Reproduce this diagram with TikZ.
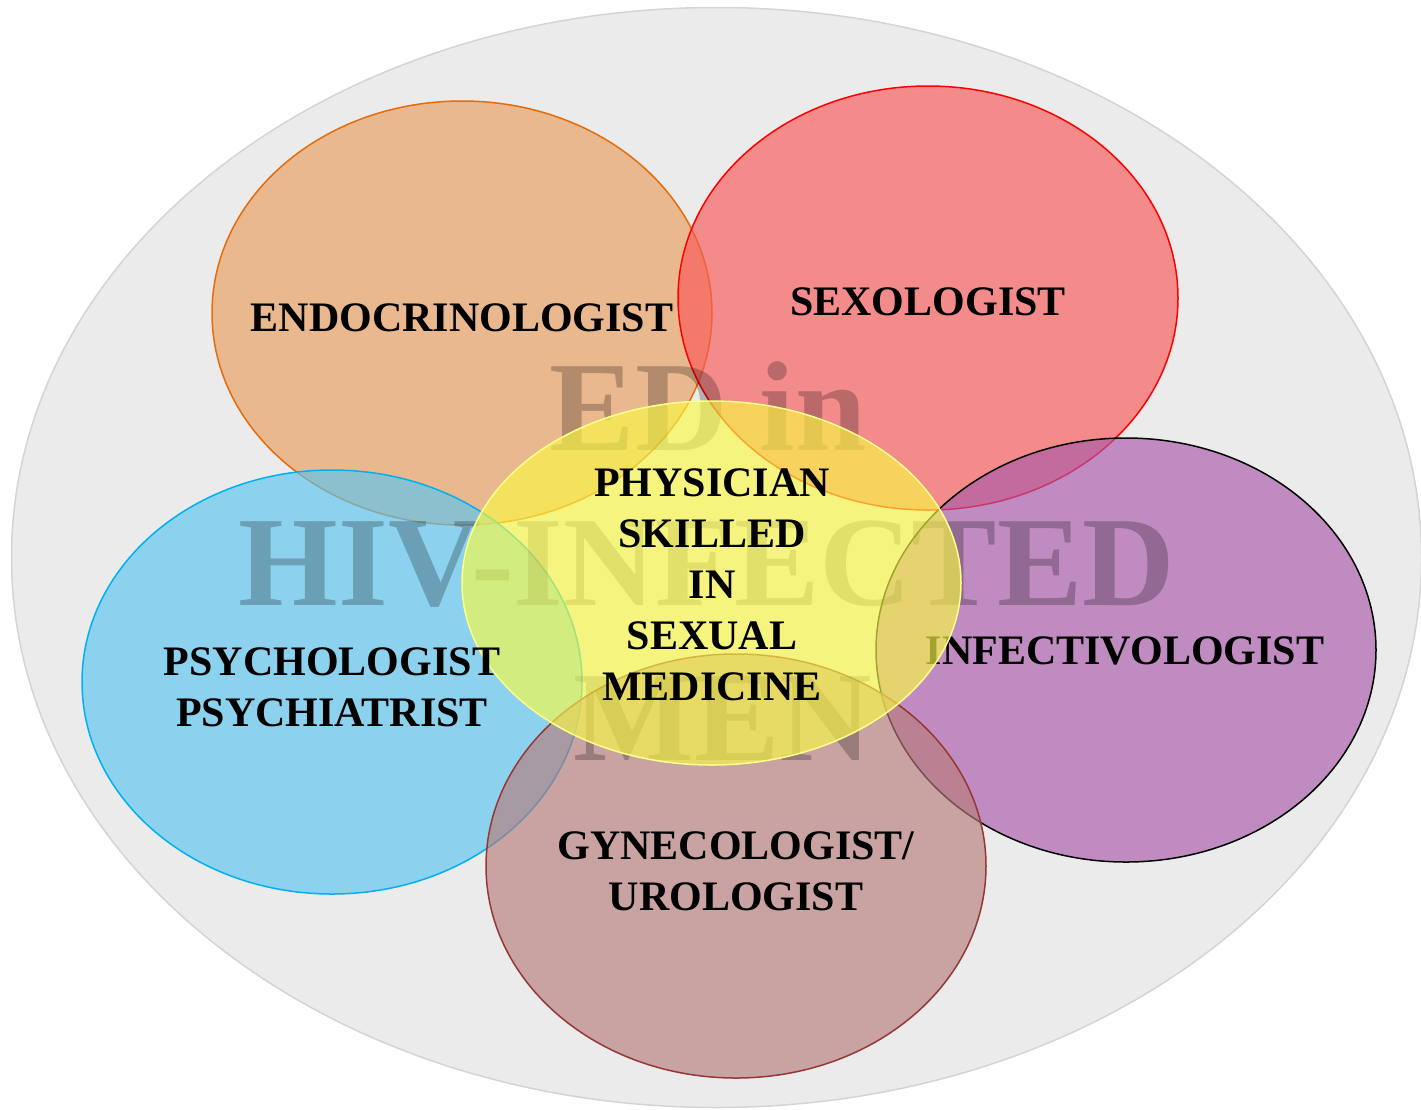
\documentclass[tikz,border=0pt]{standalone}
\usepackage{fontspec}
\setmainfont{Liberation Serif}
\usetikzlibrary{shapes.geometric}
\definecolor{bgfill}{RGB}{235,235,235}
\definecolor{bgline}{RGB}{212,212,212}
\definecolor{orfill}{RGB}{232,158,95}
\definecolor{orline}{RGB}{228,108,10}
\definecolor{rdfill}{RGB}{249,89,89}
\definecolor{rdline}{RGB}{255,0,0}
\definecolor{pufill}{RGB}{169,89,169}
\definecolor{puline}{RGB}{0,0,0}
\definecolor{blfill}{RGB}{90,198,240}
\definecolor{blline}{RGB}{0,176,240}
\definecolor{brfill}{RGB}{183,124,124}
\definecolor{brline}{RGB}{149,55,53}
\definecolor{yefill}{RGB}{250,250,69}
\definecolor{yeline}{RGB}{255,255,140}
\tikzset{
  petal/.style={ellipse, inner sep=0pt, minimum width=500pt, minimum height=424pt, line width=1.5pt, fill opacity=0.65, draw opacity=1},
  lbl/.style={font=\fontsize{42}{51}\selectfont\bfseries, align=center, inner sep=0pt, text=black},
  wm/.style={font=\fontsize{128}{155}\selectfont\bfseries, inner sep=0pt, text=black, text opacity=0.24}
}
\begin{document}
\begin{tikzpicture}[x=1pt,y=-1pt]
\useasboundingbox (0,0) rectangle (1421,1109);
% background
\node[ellipse, inner sep=0pt, minimum width=1410pt, minimum height=1100pt, fill=bgfill, draw=bgline, line width=1.5pt] (bg) at (716.5,557.5) {};
% petals
\node[petal, fill=orfill, draw=orline] (endo) at (462,313) {};
\node[petal, fill=rdfill, draw=rdline] (sexo) at (928,298) {};
\node[petal, fill=pufill, draw=puline] (infe) at (1126,650) {};
\node[petal, fill=blfill, draw=blline] (psy) at (332,682) {};
\node[petal, fill=brfill, draw=brline] (gyn) at (736,866) {};
% label under the centre
\node[lbl, anchor=base] (infel) at (1125,664) {INFECTIVOLOGIST};
% watermark title
\node[wm, anchor=base] (wm1) at (708,450) {ED in};
\node[wm, anchor=base] (wm2) at (707,605) {HIV-INFECTED};
\node[wm, anchor=base] (wm3) at (723,760) {MEN};
% centre
\node[ellipse, inner sep=0pt, minimum width=499pt, minimum height=364pt, fill=yefill, fill opacity=0.65, draw=yeline, line width=1.5pt] (core) at (711.5,583) {};
% labels (multi-line nodes: base = last line)
\node[lbl, anchor=base] (endol) at (462,331) {ENDOCRINOLOGIST};
\node[lbl, anchor=base] (sexol) at (928,315) {SEXOLOGIST};
\node[lbl, anchor=base] (psyl) at (332,726) {PSYCHOLOGIST\\PSYCHIATRIST};
\node[lbl, anchor=base] (gynl) at (736,910) {GYNECOLOGIST/\\UROLOGIST};
\node[lbl, anchor=base] (corel) at (712,700) {PHYSICIAN\\SKILLED\\IN\\SEXUAL\\MEDICINE};
\end{tikzpicture}
\end{document}
